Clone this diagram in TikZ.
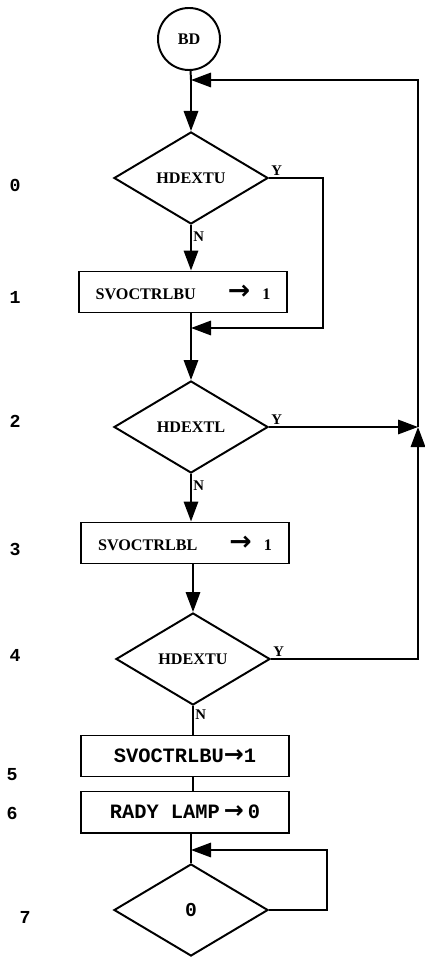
\documentclass[tikz,border=0pt]{standalone}
\usepackage{fontspec}
\setmainfont{Liberation Serif}
\setmonofont{Liberation Mono}
\newfontfamily\arrfont{DejaVu Sans}
\newfontfamily\arrmono{DejaVu Sans Mono}
\usetikzlibrary{arrows.meta, positioning, shapes.geometric}

\begin{document}
\begin{tikzpicture}[
    x=0.025cm, y=-0.025cm,
    dec/.style={draw, diamond, line width=1.4pt, minimum width=3.85cm, minimum height=2.3cm, inner sep=0pt, font=\fontsize{11.5}{13}\selectfont\bfseries},
    box/.style={draw, line width=1.4pt, minimum width=5.2cm, minimum height=1.025cm, inner sep=0pt, font=\fontsize{11.5}{13}\selectfont\bfseries},
    tbox/.style={box, font=\fontsize{14.5}{16}\selectfont\ttfamily\bfseries},
    num/.style={font=\fontsize{13}{15}\selectfont\ttfamily\bfseries},
    yn/.style={font=\fontsize{10.5}{12}\selectfont\bfseries, inner sep=1pt},
    ar/.style={-{Triangle[length=5mm, width=3.6mm]}, line width=1.4pt},
    ln/.style={line width=1.4pt}
]
\useasboundingbox (0,0) rectangle (424,957);
\node[draw, circle, line width=1.4pt, minimum size=1.55cm, font=\fontsize{11.5}{13}\selectfont\bfseries] (bd) at (189,39) {BD};
\node[dec] (d0) at (191,178) {HDEXTU};
\node[box] (b1) at (183,292) {SVOCTRLBU\hspace{0.8cm}{\arrfont\bfseries\fontsize{19}{19}\selectfont →}\hspace{0.3cm}1};
\node[dec] (d2) at (191,427) {HDEXTL};
\node[box] (b3) at (185,543) {SVOCTRLBL\hspace{0.8cm}{\arrfont\bfseries\fontsize{19}{19}\selectfont →}\hspace{0.3cm}1};
\node[dec] (d4) at (193,659) {HDEXTU};
\node[tbox] (b5) at (185,756) {SVOCTRLBU{\arrfont\bfseries\fontsize{17}{17}\selectfont →}1};
\node[tbox] (b6) at (185,812) {RADY LAMP{\arrfont\bfseries\fontsize{17}{17}\selectfont\,→\,}0};
\node[dec, font=\fontsize{14}{16}\selectfont\ttfamily\bfseries] (d7) at (191,910) {0};
\foreach \t/\x/\y in {0/15/185, 1/15/297, 2/15/421, 3/15/549, 4/15/655, 5/12/775, 6/12/813, 7/25/917}
    \node[num] (n\t) at (\x,\y) {\t};
\coordinate (j0) at (191,80);
\coordinate (j1) at (191,328);
\coordinate (j7) at (191,850);
\coordinate (rt) at (418,80);
\coordinate (rj) at (418,427);
\coordinate (rb) at (418,659);
\coordinate (y1) at (323,328);
\coordinate (y7) at (327,850);
\draw[ln] (bd) -- (j0);
\draw[ar] (j0) -- (d0.north);
\draw[ar] (rj) -- (rt) -- (j0);
\draw[ar] (d0.east) node[yn, above right]{Y} -| (y1) -- (j1);
\draw[ar] (d0.south) -- node[yn, right, pos=.25]{N} (b1.north -| d0.south);
\draw[ln] (b1.south -| j1) -- (j1);
\draw[ar] (j1) -- (d2.north);
\draw[ar] (d2.east) node[yn, above right]{Y} -- (rj);
\draw[ar] (d2.south) -- node[yn, right, pos=.25]{N} (b3.north -| d2.south);
\draw[ar] (b3.south -| d4.north) -- (d4.north);
\draw[ar] (d4.east) node[yn, above right]{Y} -- (rb) -- (rj);
\draw[ln] (d4.south) -- node[yn, right, pos=.3]{N} (b5.north -| d4.south);
\draw[ln] (b5.south -| d4.south) -- (b6.north -| d4.south);
\draw[ln] (b6.south -| j7) -- (j7) -- (d7.north);
\draw[ar] (d7.east) -| (y7) -- (j7);
\end{tikzpicture}
\end{document}
